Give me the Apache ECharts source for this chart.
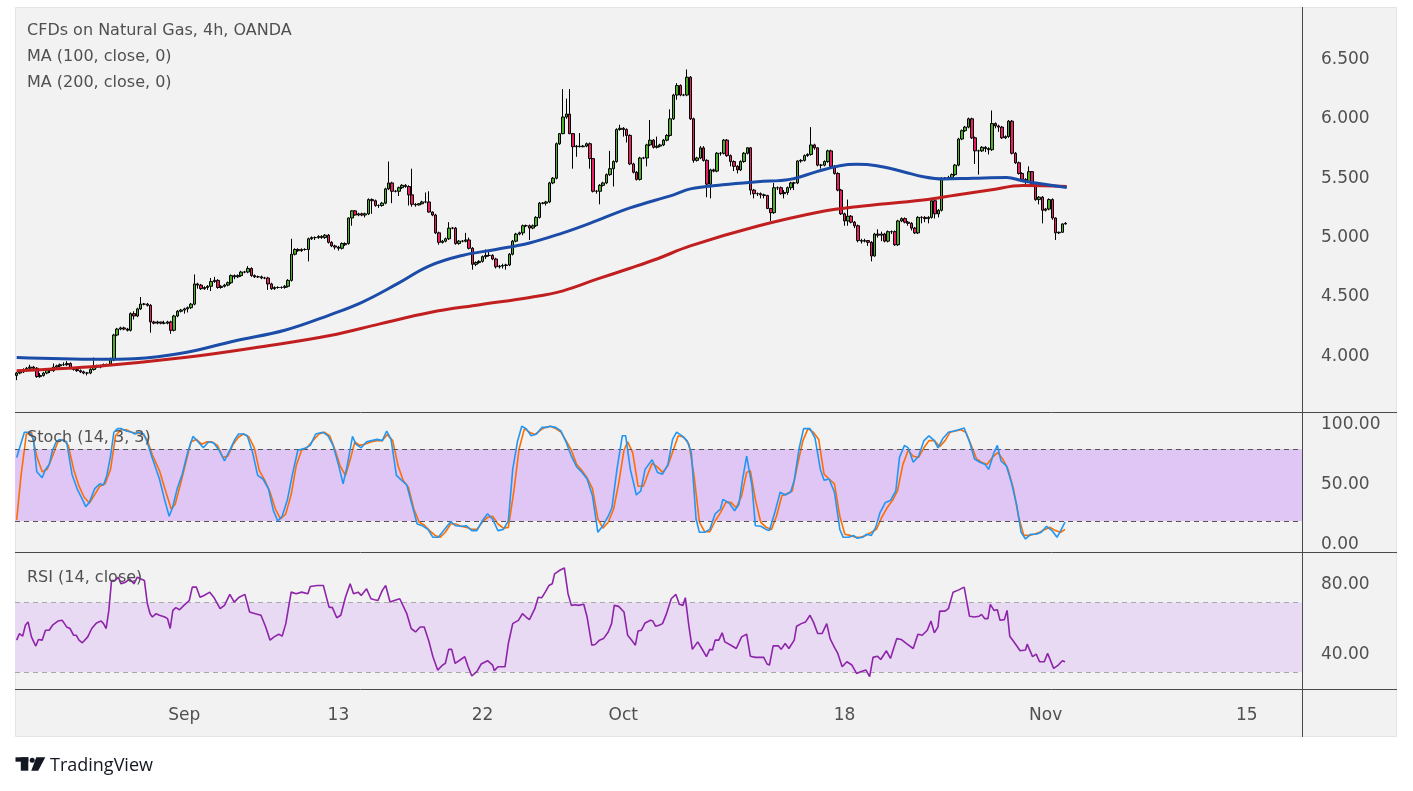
<!DOCTYPE html>
<html><head><meta charset="utf-8">
<script src="https://cdn.jsdelivr.net/npm/echarts/dist/echarts.min.js"></script>
<style>html,body{margin:0;padding:0;background:#fff}#c{width:1413px;height:791px}</style>
</head><body><div id="c"></div>
<script>
// ---- price data (4h bars, OANDA NATGAS) ----
const opens=[
3.84,3.86,3.87,3.88,3.90,3.91,3.90,3.83,3.84,3.86,
3.89,3.88,3.91,3.92,3.93,3.93,3.94,3.90,3.89,3.88,
3.87,3.86,3.86,3.89,3.92,3.91,3.92,3.93,3.93,3.97,
4.18,4.23,4.24,4.23,4.22,4.36,4.34,4.40,4.44,4.44,
4.43,4.29,4.28,4.29,4.28,4.28,4.29,4.22,4.34,4.38,
4.39,4.40,4.41,4.44,4.61,4.60,4.57,4.58,4.59,4.63,
4.64,4.58,4.59,4.60,4.62,4.68,4.67,4.68,4.71,4.71,
4.74,4.68,4.67,4.67,4.66,4.66,4.61,4.57,4.58,4.58,
4.58,4.59,4.64,4.86,4.90,4.89,4.90,4.90,4.99,5.00,
5.00,5.01,5.00,5.02,4.96,4.93,4.92,4.91,4.95,4.95,
5.165,5.225,5.19,5.20,5.19,5.20,5.32,5.31,5.27,5.27,
5.29,5.41,5.46,5.39,5.39,5.42,5.44,5.43,5.36,5.28,
5.275,5.285,5.30,5.30,5.215,5.19,5.04,4.96,4.97,4.99,
5.08,5.08,4.95,4.97,4.97,4.98,4.91,4.775,4.79,4.80,
4.84,4.85,4.85,4.82,4.755,4.76,4.765,4.77,4.86,4.97,
5.03,5.04,5.10,5.10,5.08,5.10,5.17,5.29,5.29,5.30,
5.46,5.50,5.79,5.875,6.015,6.04,5.875,5.765,5.77,5.765,
5.77,5.79,5.665,5.39,5.39,5.44,5.46,5.53,5.58,5.64,
5.91,5.92,5.91,5.86,5.62,5.55,5.49,5.67,5.67,5.78,
5.82,5.76,5.77,5.78,5.82,5.86,6.00,6.20,6.28,6.20,
6.20,6.35,6.00,5.65,5.67,5.755,5.65,5.45,5.57,5.56,
5.71,5.71,5.82,5.69,5.64,5.60,5.57,5.64,5.71,5.756,
5.40,5.37,5.37,5.36,5.355,5.245,5.21,5.42,5.42,5.37,
5.38,5.42,5.46,5.46,5.645,5.65,5.69,5.70,5.78,5.756,
5.61,5.61,5.64,5.73,5.60,5.54,5.40,5.20,5.14,5.18,
5.13,5.10,4.975,4.97,4.975,4.96,4.845,5.03,5.02,5.03,
4.97,5.05,5.05,4.94,5.14,5.16,5.13,5.12,5.08,5.04,
5.17,5.17,5.16,5.17,5.31,5.20,5.23,5.50,5.50,5.505,
5.53,5.61,5.83,5.90,5.93,6.00,5.84,5.73,5.73,5.76,
5.75,5.74,5.96,5.94,5.93,5.84,5.85,5.98,5.71,5.63,
5.54,5.49,5.47,5.555,5.44,5.32,5.34,5.23,5.24,5.32,
5.165,5.04,5.045,5.115];
const closes=[
3.86,3.87,3.88,3.90,3.91,3.90,3.83,3.84,3.86,3.89,
3.88,3.91,3.92,3.93,3.93,3.94,3.90,3.89,3.88,3.87,
3.86,3.86,3.89,3.92,3.91,3.92,3.93,3.93,3.98,4.18,
4.23,4.24,4.23,4.22,4.36,4.34,4.40,4.44,4.44,4.43,
4.29,4.28,4.29,4.28,4.28,4.29,4.22,4.34,4.38,4.39,
4.40,4.41,4.44,4.61,4.60,4.57,4.58,4.59,4.63,4.64,
4.58,4.59,4.60,4.62,4.68,4.67,4.68,4.71,4.71,4.74,
4.68,4.67,4.67,4.66,4.66,4.61,4.57,4.58,4.58,4.58,
4.59,4.64,4.86,4.90,4.89,4.90,4.90,4.99,5.00,5.00,
5.01,5.00,5.02,4.96,4.93,4.92,4.91,4.95,4.94,5.165,
5.225,5.19,5.20,5.19,5.20,5.32,5.31,5.27,5.27,5.29,
5.41,5.46,5.39,5.39,5.42,5.44,5.43,5.36,5.28,5.275,
5.285,5.30,5.30,5.215,5.19,5.04,4.96,4.97,4.99,5.08,
5.08,4.95,4.97,4.97,4.98,4.91,4.775,4.79,4.80,4.84,
4.85,4.85,4.82,4.755,4.76,4.765,4.77,4.86,4.97,5.03,
5.04,5.10,5.10,5.08,5.10,5.17,5.29,5.29,5.30,5.46,
5.50,5.79,5.875,6.015,6.04,5.875,5.765,5.77,5.765,5.77,
5.79,5.665,5.39,5.39,5.44,5.46,5.53,5.58,5.64,5.91,
5.92,5.91,5.86,5.62,5.55,5.49,5.67,5.67,5.78,5.82,
5.76,5.77,5.78,5.82,5.86,6.00,6.20,6.28,6.20,6.20,
6.35,6.00,5.65,5.67,5.755,5.65,5.45,5.57,5.56,5.71,
5.71,5.82,5.69,5.64,5.60,5.57,5.64,5.71,5.756,5.40,
5.37,5.37,5.36,5.355,5.245,5.21,5.42,5.42,5.37,5.38,
5.42,5.46,5.46,5.645,5.65,5.69,5.70,5.78,5.756,5.61,
5.61,5.64,5.73,5.60,5.54,5.40,5.20,5.14,5.18,5.13,
5.10,4.975,4.97,4.975,4.96,4.845,5.03,5.02,5.03,4.97,
5.05,5.05,4.94,5.14,5.16,5.13,5.12,5.08,5.04,5.17,
5.17,5.16,5.17,5.31,5.20,5.23,5.50,5.50,5.505,5.53,
5.61,5.83,5.90,5.93,6.00,5.84,5.73,5.73,5.76,5.75,
5.74,5.96,5.94,5.93,5.84,5.85,5.98,5.71,5.63,5.54,
5.49,5.47,5.555,5.44,5.32,5.34,5.23,5.24,5.32,5.165,
5.04,5.045,5.115,5.12];
const lows=[
3.80,3.85,3.86,3.87,3.88,3.88,3.82,3.82,3.83,3.85,
3.86,3.87,3.90,3.91,3.92,3.92,3.89,3.88,3.87,3.86,
3.85,3.84,3.85,3.88,3.90,3.90,3.91,3.92,3.92,3.96,
4.17,4.22,4.22,4.21,4.21,4.31,4.33,4.39,4.43,4.42,
4.20,4.27,4.27,4.27,4.27,4.27,4.19,4.21,4.33,4.37,
4.36,4.37,4.40,4.43,4.57,4.56,4.56,4.56,4.55,4.62,
4.57,4.57,4.58,4.59,4.61,4.65,4.66,4.67,4.70,4.70,
4.67,4.66,4.66,4.65,4.65,4.56,4.56,4.56,4.57,4.57,
4.57,4.58,4.63,4.85,4.88,4.88,4.89,4.80,4.98,4.98,
4.99,4.99,4.99,4.95,4.92,4.90,4.89,4.90,4.93,4.94,
5.10,5.185,5.18,5.18,5.17,5.19,5.20,5.26,5.25,5.26,
5.28,5.40,5.29,5.38,5.35,5.41,5.42,5.27,5.26,5.26,
5.27,5.28,5.29,5.21,5.18,5.03,4.94,4.95,4.96,4.98,
5.07,4.94,4.94,4.96,4.96,4.90,4.73,4.76,4.78,4.79,
4.82,4.84,4.81,4.74,4.74,4.74,4.73,4.76,4.85,4.96,
5.02,5.02,5.09,4.98,5.07,5.09,5.16,5.28,5.27,5.29,
5.45,5.49,5.78,5.87,6.00,5.87,5.58,5.68,5.76,5.76,
5.76,5.58,5.38,5.37,5.28,5.43,5.45,5.52,5.43,5.63,
5.90,5.85,5.80,5.61,5.54,5.48,5.48,5.66,5.60,5.77,
5.75,5.75,5.76,5.77,5.81,5.85,5.99,6.16,6.19,6.19,
6.19,5.99,5.63,5.64,5.66,5.64,5.34,5.33,5.55,5.55,
5.69,5.70,5.68,5.60,5.56,5.54,5.56,5.63,5.70,5.36,
5.33,5.35,5.33,5.33,5.24,5.14,5.20,5.40,5.36,5.33,
5.36,5.40,5.40,5.45,5.63,5.64,5.68,5.69,5.74,5.60,
5.58,5.60,5.63,5.59,5.53,5.39,5.19,5.10,5.10,5.12,
5.08,4.96,4.95,4.96,4.93,4.80,4.84,5.00,4.97,4.96,
4.96,5.03,4.93,4.93,5.13,5.12,5.10,5.06,5.03,5.03,
5.12,5.13,5.12,5.16,5.16,5.17,5.22,5.49,5.49,5.50,
5.52,5.60,5.82,5.89,5.92,5.83,5.62,5.53,5.72,5.72,
5.70,5.73,5.92,5.89,5.83,5.83,5.84,5.70,5.62,5.53,
5.48,5.45,5.46,5.43,5.31,5.28,5.12,5.22,5.23,5.15,
4.98,5.03,5.04,5.11];
const highs=[
3.87,3.88,3.90,3.91,3.93,3.92,3.91,3.86,3.87,3.90,
3.90,3.94,3.93,3.94,3.95,3.96,3.95,3.91,3.90,3.89,
3.88,3.87,3.90,3.99,3.93,3.93,3.94,3.94,3.99,4.19,
4.24,4.25,4.25,4.24,4.37,4.38,4.41,4.50,4.45,4.45,
4.44,4.30,4.30,4.29,4.30,4.30,4.30,4.35,4.39,4.40,
4.41,4.42,4.45,4.69,4.62,4.61,4.59,4.60,4.66,4.67,
4.65,4.60,4.61,4.63,4.69,4.69,4.69,4.72,4.72,4.76,
4.75,4.69,4.68,4.68,4.67,4.67,4.62,4.59,4.59,4.59,
4.60,4.65,4.99,4.91,4.91,4.91,4.91,5.00,5.01,5.01,
5.02,5.02,5.03,5.03,4.97,4.94,4.93,4.96,4.96,5.17,
5.23,5.23,5.21,5.21,5.21,5.33,5.33,5.32,5.28,5.30,
5.42,5.64,5.47,5.40,5.43,5.45,5.45,5.44,5.58,5.29,
5.29,5.31,5.38,5.39,5.22,5.20,5.05,4.98,5.00,5.13,
5.09,5.09,4.98,4.98,5.04,5.00,4.92,4.80,4.81,4.85,
4.90,4.88,4.86,4.83,4.77,4.78,4.78,4.87,4.98,5.04,
5.05,5.11,5.11,5.11,5.11,5.18,5.30,5.30,5.31,5.47,
5.51,5.80,5.88,6.25,6.17,6.25,5.88,5.78,5.88,5.78,
5.80,5.80,5.67,5.40,5.45,5.47,5.54,5.73,5.65,5.92,
5.95,5.93,5.92,5.87,5.63,5.56,5.68,5.68,5.79,5.99,
5.83,5.85,5.79,5.83,5.87,6.08,6.21,6.30,6.29,6.21,
6.415,6.36,6.01,5.68,5.77,5.77,5.66,5.58,5.58,5.72,
5.72,5.83,5.83,5.70,5.65,5.61,5.65,5.72,5.76,5.76,
5.41,5.38,5.38,5.37,5.36,5.25,5.46,5.43,5.43,5.40,
5.43,5.47,5.47,5.65,5.66,5.70,5.71,5.93,5.79,5.76,
5.62,5.65,5.74,5.74,5.61,5.55,5.41,5.21,5.32,5.19,
5.14,5.11,4.99,4.99,4.98,4.97,5.04,5.07,5.05,5.04,
5.06,5.06,5.06,5.15,5.17,5.17,5.14,5.13,5.09,5.18,
5.18,5.18,5.18,5.33,5.34,5.24,5.51,5.51,5.52,5.54,
5.62,5.84,5.91,5.94,6.01,6.01,5.85,5.74,5.77,5.77,
5.76,6.07,5.97,5.95,5.94,5.86,5.99,5.99,5.72,5.64,
5.55,5.50,5.60,5.56,5.45,5.35,5.35,5.25,5.33,5.33,
5.17,5.05,5.12,5.13];

// ---- moving averages: [bar index, value] ----
const ma100=[[0,3.99],[25,3.975],[35,3.98],[50,4.03],[65,4.13],[80,4.22],[93.5,4.35],[103,4.455],[113.5,4.61],[123,4.76],[133,4.85],[143,4.90],[153,4.955],[163,5.04],[171,5.12],[183,5.25],[196,5.36],[201,5.41],[210.7,5.444],[221,5.47],[230.7,5.49],[238.7,5.555],[245.6,5.605],[250.6,5.617],[256.6,5.605],[264.5,5.555],[270.5,5.513],[276.4,5.494],[285.4,5.50],[295.4,5.505],[300.3,5.477],[313.3,5.421]];
const ma200=[[0,3.88],[25,3.92],[50,3.99],[75,4.09],[93.5,4.176],[108.4,4.274],[123.3,4.37],[138.2,4.435],[153.1,4.496],[163,4.552],[173.1,4.65],[183,4.742],[191,4.82],[201,4.93],[220.9,5.095],[240.6,5.221],[250.6,5.26],[270.5,5.317],[280.4,5.359],[290.4,5.40],[300.2,5.438],[313.3,5.43]];

// ---- Stochastic (14,3,3): [bar index, value] ----
const stochK=[[0,73],[2.3,94],[3.9,94],[5,88],[6,61],[7.6,56],[8.6,63],[9.7,67],[10.7,79],[11.8,86],[12.8,88],[13.9,87],[14.9,86],[16.5,59],[18,47],[19.6,38],[20.6,32],[21.7,35.5],[23.3,47],[24.8,51],[25.9,50],[26.9,58],[28,74],[29,94],[30.1,97],[31.1,97],[32.7,95],[34.3,94],[35.3,92.5],[36.3,94],[37.9,92.5],[38.9,86],[40.5,72],[42.6,55],[44.2,37],[45.5,24],[46.5,31],[47.9,47],[49.4,59],[51,77],[52.6,90.5],[54.1,86],[55.7,81],[57.3,86],[58.8,85],[60.4,79],[62,70],[63.6,79],[65.1,88],[66.2,92.5],[67.7,92.5],[68.8,91],[70.4,77],[71.9,58],[73.5,55],[75.1,47],[76.6,28.6],[77.9,20],[79.2,24],[80.8,38],[82.4,60.5],[83.9,79],[86,80.5],[87.6,83],[89.2,92.5],[91.3,94],[92.9,91],[94.4,83],[96,67],[97.4,51],[98.6,66],[100.2,90.5],[101.2,84],[102.8,81],[104.4,86],[105.9,87],[107.5,88],[109.1,87],[110.4,95],[111.7,88],[113.3,58],[114.8,54],[116.4,50],[118,33],[119.5,17.5],[121.1,16],[122.7,13],[124.2,6.4],[125.8,6.4],[127.4,12],[129.5,19.4],[131,16],[132.6,15.6],[134.2,16],[135.8,12],[137.3,12],[138.9,20],[140.5,26],[142,21.7],[143.6,12],[145.2,13],[146.7,20],[148,63],[149.4,86],[150.7,99],[152,97],[153.5,91],[155.1,92.5],[156.7,98],[158.2,98],[159.2,99],[160.8,98],[162.4,95],[163.9,86],[165.5,74],[167.1,65],[168.7,60.5],[170.2,55],[171.8,41],[173.4,10.6],[174.9,16],[176.5,24],[177.6,31],[179.1,63],[180.7,91],[181.7,91],[183.1,63],[184.9,41.7],[186.2,45],[187.5,63],[189.6,71],[191.2,60.5],[192.7,59],[194.3,67],[195.7,88],[196.9,94],[198.5,91],[200,87],[201.3,77],[202.7,21.7],[203.7,10.6],[205.3,10.6],[206.8,13],[208.4,26],[210,30],[210.7,38],[212.6,35],[214.2,28.6],[215.5,34],[216.6,55],[217.8,74],[219.4,49],[220.4,16],[222,15.6],[223.6,13],[224.6,12],[226.2,27],[227.8,44],[229.3,41.7],[230.9,44],[232,54],[233.5,81],[234.8,97],[236.7,97],[238.2,89],[239.8,63],[240.9,54],[242.4,55],[244,44],[245.6,13],[246.6,6.4],[248.2,6.4],[249.7,8],[250.8,5.6],[252.4,6.4],[253.6,9],[255,8],[256.3,14.7],[257.6,27],[259.2,35.5],[260.7,37],[262.3,45],[263.4,73],[264.9,83],[266,81],[267.5,69],[269.1,74],[270.7,87],[272.2,91],[273.8,87],[274.9,81],[276.4,89],[278,94],[279.6,95],[281.1,96],[282.7,97.5],[284.3,86],[285.8,71.7],[287.4,69],[289,67],[290,63],[291.6,77],[292.6,83],[293.7,70],[295.3,66],[296.8,52],[298.4,33],[299.7,10.6],[301,5],[302.6,9],[304.2,9],[305.7,10.6],[307.3,15.6],[308.9,12],[310.4,6.4],[311.5,12],[312.8,19]];
const stochD=[[0,21],[1.3,58],[2.9,92.5],[4.4,94],[6,74],[7.6,61],[9.1,63],[10.7,74],[12.3,86],[13.9,88],[15.4,83],[17,63],[18.6,49],[20.1,40],[21.7,35],[23.3,42],[24.8,49],[26.4,51],[28,63],[29.5,91],[31.1,96],[32.7,96],[34.3,94],[35.8,93],[37.4,93],[38.9,88],[40.5,75],[42.6,62],[44.2,47],[46.1,30],[47.3,34],[48.9,51],[50.5,69],[52,86],[53.6,88],[55.2,84],[56.8,86],[58.3,86],[59.9,83],[61.5,73],[63,74],[64.6,84],[66.2,90],[67.7,92.5],[69.3,90],[70.9,81],[72.4,62],[74,54],[75.6,44],[77.2,30],[78.7,21.7],[80.3,26],[81.9,42],[83.4,66],[85,79],[86.6,81],[88.1,86],[90.2,92.5],[91.8,94],[93.4,91],[94.9,80],[96.5,66],[98.1,58],[99.7,73],[100.9,86],[102.3,83],[103.8,84],[105.9,86],[107.5,87],[109.1,87],[110.6,92],[112.2,87],[113.8,66],[115.3,54],[116.9,48],[118.5,30],[120.1,19],[121.6,16.7],[123.2,12],[124.8,8],[126.3,6.4],[127.9,10.6],[129.5,17.5],[131,17.5],[132.6,15.6],[134.2,14.7],[135.8,13],[137.3,13],[138.9,19],[140.5,23],[142,24],[143.6,17.5],[145.2,14],[146.7,14.7],[148.3,44],[149.9,80],[151.5,97],[153,94],[154.6,92],[156.2,95.5],[157.7,98],[159.2,99],[160.8,97],[162.4,94],[163.9,87],[165.5,79],[167.1,67],[168.7,62],[170.2,56],[171.8,47],[173.4,21.7],[174.9,14],[176.5,19],[178.1,30],[179.6,51],[181.2,79],[182.3,86],[183.8,77],[185.4,49],[187,49],[188.5,60.5],[189.6,68],[191.2,65],[192.7,60.5],[194.3,66],[195.9,79],[197.4,91],[199,90],[200.6,84],[202.1,58],[203.7,19],[205.3,11],[206.8,11],[208.4,20],[210,27],[211.6,35.5],[213.1,35.5],[214.7,31],[216.3,41],[217.8,60.5],[218.9,62],[220.4,38],[222,19],[223.6,14.7],[225.2,13],[226.7,24],[228.3,41],[229.9,43],[231.4,45],[233,67],[234.6,87],[236.1,97],[237.7,94],[239.3,88],[240.9,59],[242.4,55],[244,51],[245.6,24],[247.1,9],[248.7,8],[250.3,6.4],[251.8,6.4],[253.4,8],[255,10.6],[256.5,13],[258.1,23],[259.7,31],[261.3,37],[262.8,45],[264.4,67],[266,79],[267.5,74],[269.1,73],[270.7,81],[272.2,87],[273.8,87],[275.4,82],[277,87],[278.5,94],[280.1,95],[281.7,96],[283.2,94],[284.8,83],[286.4,71.7],[287.9,69],[289.5,67],[291.1,73],[292.7,77],[294.2,71.7],[295.8,63],[297.4,47],[298.9,24],[300.5,8],[302.1,8],[303.6,9],[305.2,10.6],[306.8,13],[308.3,14.7],[309.9,12],[311.5,10.6],[312.8,13]];

// ---- RSI (14, close): [bar index, value] ----
const rsi=[[0,48.3],[0.8,52],[1.8,50.6],[2.6,56.9],[3.4,58.8],[4.4,50.2],[5.7,44.9],[6.5,48.7],[7.6,48.3],[8.6,54],[9.7,54],[10.7,56.9],[12.3,59.3],[13.6,59.7],[14.9,55.9],[15.9,55],[17,51.1],[17.8,51.1],[18.6,48.3],[19.6,46.8],[21.2,50.2],[22.4,55],[23.8,58.2],[25.2,59.3],[25.9,57.8],[26.7,55],[27.5,65.4],[28.3,82.6],[29.3,82.6],[30.4,84.5],[31.1,80.7],[32.5,81.6],[33.7,83.5],[35,80.7],[36,84.5],[37.1,83.5],[38.1,82.6],[39,69.2],[39.8,63.5],[40.5,61.6],[41.6,63.5],[42.6,62.6],[44.2,61.6],[45,60.7],[45.8,55],[46.6,65.4],[47.5,67],[48.6,65.8],[49.9,68.3],[51.5,71.1],[52.4,78.8],[53.6,78.8],[54.7,73],[55.9,74],[57.6,75.9],[58.8,73],[60.7,66.4],[62,68.3],[63.6,74.6],[64.9,70.2],[66.4,73],[68.1,74.6],[69.5,64.5],[71.2,63.5],[72.9,62.6],[74.3,55.9],[75.6,48.3],[76.8,50.2],[78.2,51.7],[79.2,50.6],[80.3,57.8],[81.9,75.9],[83.4,75],[85,75.9],[86.9,75],[87.6,79.1],[89.7,79.7],[91.5,79.7],[93.2,67.3],[94.2,67],[95.5,61.2],[96.7,62.6],[98.1,73],[99.5,80.7],[100.5,75],[101.9,75.9],[102.8,74],[104.4,77.8],[105.7,72.1],[106.8,71.5],[107.8,71.1],[109.1,76.9],[110.1,79.7],[111.4,70.2],[112.7,71.1],[114.3,72.1],[116.4,63.5],[117.7,55],[119,53],[120.4,55.9],[121.6,55.9],[122.9,48.3],[124.2,38.8],[125.6,31.1],[127.1,34],[127.9,35],[128.9,43],[129.8,43],[130.8,35],[132.3,36.9],[133.7,38.8],[134.7,33],[135.8,27.7],[137.3,30.2],[138.6,34.6],[140.5,36.5],[142,34],[142.5,30.8],[143.6,33],[145.7,33],[146.7,46.4],[148,57.8],[149.7,59.7],[150.9,63.5],[152,61.6],[153,60.1],[154.6,66.4],[155.6,73],[156.7,72.7],[157.7,75.9],[158.8,79.7],[159.8,80.7],[160.5,86.4],[161.9,88.3],[163.4,89.8],[164.5,75],[165.5,68.3],[166.6,68.7],[167.6,68.3],[169.2,68.9],[170.2,61.6],[171.6,45.4],[172.6,45.8],[173.9,48.3],[175.1,49.2],[176.5,53],[177.5,57.8],[178.3,68.3],[179.6,67.7],[181.2,64.5],[182.3,51.1],[183.5,48.3],[184.6,45.4],[185.4,53.6],[186.4,54],[187.5,58.2],[189.1,59.7],[189.8,59.3],[190.6,56.3],[191.7,56.9],[192.7,57.8],[193.8,63.1],[195.3,72.1],[196.7,74.6],[197.7,68.9],[198.8,68.3],[199.5,72.7],[200.6,55.9],[201.6,43],[203.2,47.3],[204.4,43.5],[205.8,38.8],[206.8,43],[207.6,42.6],[208.4,48.3],[209.5,48.3],[210.5,52.5],[211.3,47.3],[213.1,45.4],[214.7,43.5],[216.3,50.2],[217.8,51.7],[218.9,39.1],[220.4,38.4],[222.9,38.4],[223.9,34.6],[224.6,34],[225.7,45],[227.3,45],[228.1,43],[229.3,46.4],[230.4,43.5],[232,48.3],[232.7,56.3],[234.1,57.8],[235.4,58.8],[236.7,62.6],[237.7,58.8],[239,52.1],[240.3,52.1],[241.7,57.8],[242.7,49.2],[244,44.1],[245,40.7],[246.3,33],[247.7,35.9],[249.2,34],[250.6,29.2],[251.8,30.2],[253.4,31.1],[254.5,27.3],[255.5,38.4],[256.8,39.1],[257.8,37.2],[259.5,42.2],[260.7,37.8],[262.6,49.2],[263.9,48.7],[265.4,46.4],[267.5,43.5],[268.9,51.7],[270.2,51.1],[271.7,54],[272.8,59.3],[273.8,52.5],[274.9,55.9],[275.4,65],[277,65],[278,66.4],[279.4,75.9],[281.1,77.2],[282.7,78.8],[284.3,62],[285.8,61.6],[287.1,62],[287.9,63.1],[288.8,60.7],[289.8,60.7],[290.5,68.9],[291.6,65.4],[292.6,65.8],[293.4,59.7],[294.7,60.1],[295.5,65.4],[296.3,50.6],[297.9,46.4],[299.4,42.2],[301,42.6],[301.5,46],[303.1,38.8],[304.2,40.3],[305.2,35.9],[306.6,35.9],[307.6,40.7],[309.4,32.1],[310.8,34],[312,36.5],[312.8,35.9]];

// ---- time axis ----
const barCount=384;                       // bars incl. empty future space
const categories=Array.from({length:barCount},(_,i)=>String(i));
const dateTickIndex=[50,96,139,181,247,307,367];
const dateTickText=['Sep','13','22','Oct','18','Nov','15'];

// ---- chart ----
const FONT='DejaVu Sans';
const LBL='#505050';
const chart=echarts.init(document.getElementById('c'));
const candleData=closes.map((c,i)=>[opens[i],c,lows[i],highs[i]]);
const GL=15, GW=1287;
const yLbl=(fmt)=>({showMinLabel:false,showMaxLabel:false,margin:19,color:LBL,fontFamily:FONT,fontSize:17,formatter:fmt});
const hideAx={axisLine:{show:false},axisTick:{show:false},splitLine:{show:false}};
const txt=(t,x,y,size,fill,family)=>({type:'text',z:100,silent:true,style:{text:t,x:x,y:y,fill:fill||LBL,font:size+'px "'+(family||FONT)+'"',align:'left',verticalAlign:'middle'}});
const hl=(y)=>({type:'line',z:90,silent:true,shape:{x1:15,y1:y,x2:1397,y2:y},style:{stroke:'#4a4a4a',lineWidth:1}});

chart.setOption({
  animation:false,
  backgroundColor:'#ffffff',
  grid:[
    {left:GL,width:GW,top:-2.8,height:418.6},
    {left:GL,width:GW,top:365,height:240},
    {left:GL,width:GW,top:515.4,height:208.8},
    {left:GL,width:GW,top:600,height:89}
  ],
  xAxis:[
    {type:'category',gridIndex:0,data:categories,boundaryGap:true,show:false},
    {type:'value',gridIndex:1,min:-0.5,max:barCount-0.5,show:false},
    {type:'value',gridIndex:2,min:-0.5,max:barCount-0.5,show:false},
    {type:'category',gridIndex:3,data:categories,boundaryGap:true,...hideAx,
      axisLabel:{interval:(idx)=>dateTickIndex.indexOf(idx)>=0,
        formatter:(v,idx)=>{const k=dateTickIndex.indexOf(idx);return k>=0?dateTickText[k]:'';},
        margin:18,color:LBL,fontFamily:FONT,fontSize:17}},
    {type:'value',gridIndex:0,min:-0.5,max:barCount-0.5,show:false}
  ],
  yAxis:[
    {type:'value',gridIndex:0,position:'right',min:3.5,max:7.0,interval:0.5,...hideAx,axisLabel:yLbl(v=>v.toFixed(3))},
    {type:'value',gridIndex:1,position:'right',min:-50,max:150,interval:50,...hideAx,axisLabel:yLbl(v=>v.toFixed(2))},
    {type:'value',gridIndex:2,position:'right',min:0,max:120,interval:40,...hideAx,axisLabel:yLbl(v=>v.toFixed(2))},
    {type:'value',gridIndex:3,show:false}
  ],
  graphic:[
    {type:'rect',z:0,silent:true,shape:{x:15.5,y:7.5,width:1381,height:729},style:{fill:'#f2f2f2',stroke:'#e3e4e8',lineWidth:1}},
    hl(412.5),hl(552.5),hl(689.5),
    {type:'line',z:90,silent:true,shape:{x1:1302.5,y1:7,x2:1302.5,y2:737},style:{stroke:'#4a4a4a',lineWidth:1}},
    txt('CFDs on Natural Gas, 4h, OANDA',27,31,16),
    txt('MA (100, close, 0)',27,57,16),
    txt('MA (200, close, 0)',27,83,16),
    txt('Stoch (14, 3, 3)',27,438,16),
    txt('RSI (14, close)',27,578,16),
    txt('TradingView',50,766,18,'#131722','Open Sans'),
    {type:'rect',z:100,silent:true,shape:{x:15.5,y:757.3,width:12.8,height:4.4},style:{fill:'#131722'}},
    {type:'rect',z:100,silent:true,shape:{x:20.8,y:757.3,width:7.5,height:13.4},style:{fill:'#131722'}},
    {type:'circle',z:100,silent:true,shape:{cx:32.2,cy:760.2,r:2.5},style:{fill:'#131722'}},
    {type:'polygon',z:100,silent:true,shape:{points:[[36.3,757.3],[45.3,757.3],[38.2,770.7],[31.2,770.7]]},style:{fill:'#131722'}}
  ],
  series:[
    {type:'candlestick',xAxisIndex:0,yAxisIndex:0,data:candleData,barWidth:3,z:3,
      itemStyle:{color:'#4caf28',color0:'#e91e63',borderColor:'#000000',borderColor0:'#000000',borderWidth:1}},
    {type:'line',xAxisIndex:4,yAxisIndex:0,data:ma200,smooth:0.4,symbol:'none',z:5,
      lineStyle:{color:'#c11f1f',width:3}},
    {type:'line',xAxisIndex:4,yAxisIndex:0,data:ma100,smooth:0.4,symbol:'none',z:6,
      lineStyle:{color:'#1b4ca8',width:3}},
    {type:'line',xAxisIndex:1,yAxisIndex:1,data:stochK,symbol:'none',z:5,
      lineStyle:{color:'#2196f3',width:1.6},
      markArea:{silent:true,itemStyle:{color:'#dfc6f4'},data:[[{yAxis:20},{yAxis:80}]]},
      markLine:{silent:true,symbol:'none',label:{show:false},lineStyle:{color:'#555555',width:1,type:[5,4]},data:[{yAxis:20},{yAxis:80}]}},
    {type:'line',xAxisIndex:1,yAxisIndex:1,data:stochD,symbol:'none',z:4,
      lineStyle:{color:'#ff6d00',width:1.6}},
    {type:'line',xAxisIndex:2,yAxisIndex:2,data:rsi,symbol:'none',z:5,
      lineStyle:{color:'#8e24aa',width:1.6},
      markArea:{silent:true,itemStyle:{color:'#e8daf2'},data:[[{yAxis:30},{yAxis:70}]]},
      markLine:{silent:true,symbol:'none',label:{show:false},lineStyle:{color:'#a8a8a8',width:1,type:[5,4]},data:[{yAxis:30},{yAxis:70}]}}
  ]
});
</script></body></html>
